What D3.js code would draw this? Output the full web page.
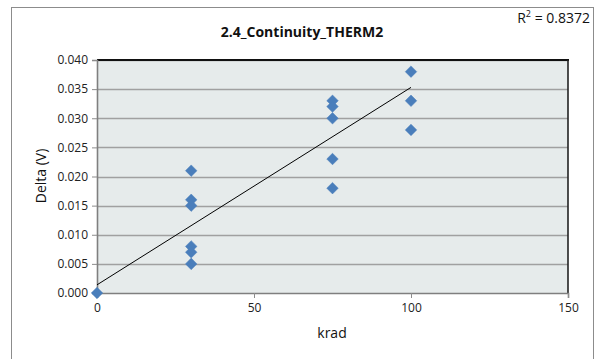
<!DOCTYPE html>
<html><head><meta charset="utf-8">
<script src="https://cdn.jsdelivr.net/npm/d3@7"></script>
<style>
html,body{margin:0;padding:0;background:#fff;}
text{font-family:"Open Sans","Noto Sans",sans-serif;}
</style></head>
<body><svg id="c" width="598" height="359"></svg>
<script>
const krad =  [0,    30,    30,    30,    30,    30,    30,    75,    75,    75,    75,    75,    100,   100,   100];
const delta = [0.000,0.021, 0.016, 0.015, 0.008, 0.007, 0.005, 0.033, 0.032, 0.030, 0.023, 0.018, 0.038, 0.033, 0.028];
const trendX = [0, 100];
const trendY = [0.0014, 0.0353];
const xTicks = [0, 50, 100, 150];
const yTicks = [0, 0.005, 0.010, 0.015, 0.020, 0.025, 0.030, 0.035, 0.040];
const title = "2.4_Continuity_THERM2";
const r2Label = "0.8372";

const svg = d3.select("#c");
const L = 97, R = 568, T = 60, B = 293;
const x = d3.scaleLinear().domain([0,150]).range([L,R]);
const y = d3.scaleLinear().domain([0,0.04]).range([B,T]);

svg.append("rect").attr("x",11.5).attr("y",7.5).attr("width",582).attr("height",360)
  .attr("fill","#fff").attr("stroke","#8c8c8c").attr("stroke-width",1);

svg.append("rect").attr("x",L).attr("y",T).attr("width",R-L).attr("height",B-T).attr("fill","#e6ebeb");

svg.append("g").selectAll("line").data(yTicks.slice(1)).join("line")
  .attr("x1",L).attr("x2",R).attr("y1",d=>Math.round(y(d))+0.5).attr("y2",d=>Math.round(y(d))+0.5)
  .attr("stroke","#a0a0a0").attr("stroke-width",1.3);

// frame top & right
svg.append("line").attr("x1",L).attr("x2",R+1).attr("y1",T).attr("y2",T).attr("stroke","#111").attr("stroke-width",2);
svg.append("line").attr("x1",R).attr("x2",R).attr("y1",T).attr("y2",B).attr("stroke","#222").attr("stroke-width",1.6);

const yAxis = d3.axisLeft(y).tickValues(yTicks).tickFormat(d3.format(".3f")).tickSize(5).tickPadding(4);
const gy = svg.append("g").attr("transform",`translate(${L},0)`).call(yAxis);
const xAxis = d3.axisBottom(x).tickValues(xTicks).tickFormat(d3.format("d")).tickSize(5).tickPadding(5);
const gx = svg.append("g").attr("transform",`translate(0,${B})`).call(xAxis);
[gy,gx].forEach(g=>{
  g.select(".domain").attr("stroke","#7f7f7f").attr("stroke-width",1.6);
  g.selectAll(".tick line").attr("stroke","#8c8c8c");
  g.selectAll("text").attr("font-size","12px").attr("fill","#222").attr("font-family","'Open Sans','Noto Sans',sans-serif");
});

// points
const pts = krad.map((k,i)=>({k, v:delta[i]}));
svg.append("g").selectAll("path").data(pts).join("path")
  .attr("d", d3.symbol().type(d3.symbolDiamond2).size(85))
  .attr("transform", d=>`translate(${x(d.k)},${y(d.v)})`)
  .attr("fill","#4a7ebb").attr("stroke","#4a7ebb").attr("stroke-width",0.5);

// trendline
svg.append("line").attr("x1",x(trendX[0])).attr("y1",y(trendY[0])).attr("x2",x(trendX[1])).attr("y2",y(trendY[1]))
  .attr("stroke","#000").attr("stroke-width",1);

svg.append("text").attr("x",302).attr("y",37).attr("text-anchor","middle")
  .attr("font-size","14px").attr("font-weight","bold").attr("fill","#111").text(title);

const r2 = svg.append("text").attr("x",590).attr("y",23).attr("text-anchor","end").attr("font-size","14px").attr("fill","#111");
r2.append("tspan").text("R");
r2.append("tspan").attr("dy",-6).attr("font-size","9px").text("2");
r2.append("tspan").attr("dy",6).text(" = " + r2Label);

svg.append("text").attr("transform","translate(46,176) rotate(-90)").attr("text-anchor","middle")
  .attr("font-size","14px").attr("fill","#111").text("Delta (V)");
svg.append("text").attr("x",332).attr("y",338).attr("text-anchor","middle")
  .attr("font-size","14px").attr("fill","#111").text("krad");
</script></body></html>
